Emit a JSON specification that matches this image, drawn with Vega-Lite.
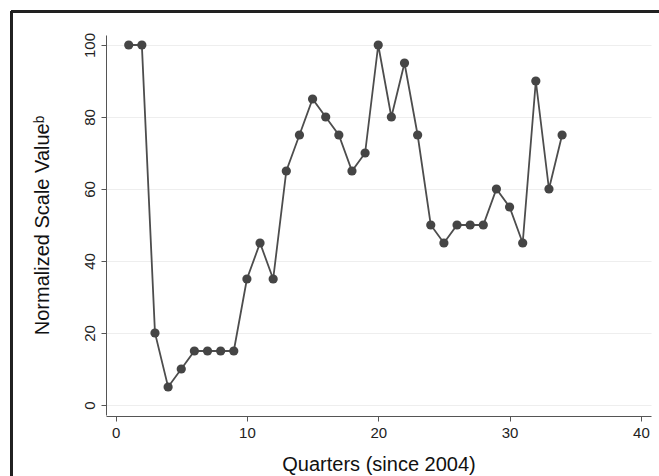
{
  "$schema": "https://vega.github.io/schema/vega-lite/v6.json",
  "autosize": "none",
  "width": 545,
  "height": 380,
  "padding": {"left": 106, "top": 35, "right": 8, "bottom": 61},
  "background": "white",
  "config": {
    "view": {"stroke": null},
    "font": "Liberation Sans",
    "axis": {
      "labelFont": "Liberation Sans",
      "titleFont": "Liberation Sans",
      "labelColor": "#222",
      "titleColor": "#111",
      "domainColor": "#555",
      "tickColor": "#555",
      "gridColor": "#eeeeee",
      "gridWidth": 1.2,
      "labelFontSize": 15,
      "titleFontSize": 20,
      "titleFontWeight": "normal",
      "tickSize": 5
    }
  },
  "data": {
    "values": [
      {"q": 1, "v": 100}, {"q": 2, "v": 100}, {"q": 3, "v": 20}, {"q": 4, "v": 5},
      {"q": 5, "v": 10}, {"q": 6, "v": 15}, {"q": 7, "v": 15}, {"q": 8, "v": 15},
      {"q": 9, "v": 15}, {"q": 10, "v": 35}, {"q": 11, "v": 45}, {"q": 12, "v": 35},
      {"q": 13, "v": 65}, {"q": 14, "v": 75}, {"q": 15, "v": 85}, {"q": 16, "v": 80},
      {"q": 17, "v": 75}, {"q": 18, "v": 65}, {"q": 19, "v": 70}, {"q": 20, "v": 100},
      {"q": 21, "v": 80}, {"q": 22, "v": 95}, {"q": 23, "v": 75}, {"q": 24, "v": 50},
      {"q": 25, "v": 45}, {"q": 26, "v": 50}, {"q": 27, "v": 50}, {"q": 28, "v": 50},
      {"q": 29, "v": 60}, {"q": 30, "v": 55}, {"q": 31, "v": 45}, {"q": 32, "v": 90},
      {"q": 33, "v": 60}, {"q": 34, "v": 75}
    ]
  },
  "encoding": {
    "x": {
      "field": "q", "type": "quantitative",
      "scale": {"domain": [-0.73, 40.77], "nice": false, "zero": false},
      "axis": {"values": [0, 10, 20, 30, 40], "grid": false, "title": "Quarters (since 2004)", "titlePadding": 14, "labelPadding": 4, "offset": 1}
    },
    "y": {
      "field": "v", "type": "quantitative",
      "scale": {"domain": [-2.78, 102.78], "nice": false, "zero": false},
      "axis": {"values": [0, 20, 40, 60, 80, 100], "grid": true, "title": "Normalized Scale Valueᵇ", "labelAngle": -90, "labelAlign": "center", "labelBaseline": "bottom", "labelPadding": 4, "titlePadding": 30}
    }
  },
  "layer": [
    {"mark": {"type": "line", "color": "#4d4d4d", "strokeWidth": 1.8}},
    {"mark": {"type": "circle", "color": "#454545", "opacity": 1, "size": 85}},
    {
      "mark": {"type": "rule", "color": "#222", "strokeWidth": 2, "clip": false},
      "encoding": {"x": {"datum": -7.9}, "y": {"datum": 109.4}, "y2": {"datum": -30}}
    },
    {
      "mark": {"type": "rule", "color": "#222", "strokeWidth": 2, "clip": false},
      "encoding": {"y": {"datum": 109.4}, "x": {"datum": -7.9}, "x2": {"datum": 50}}
    }
  ]
}
